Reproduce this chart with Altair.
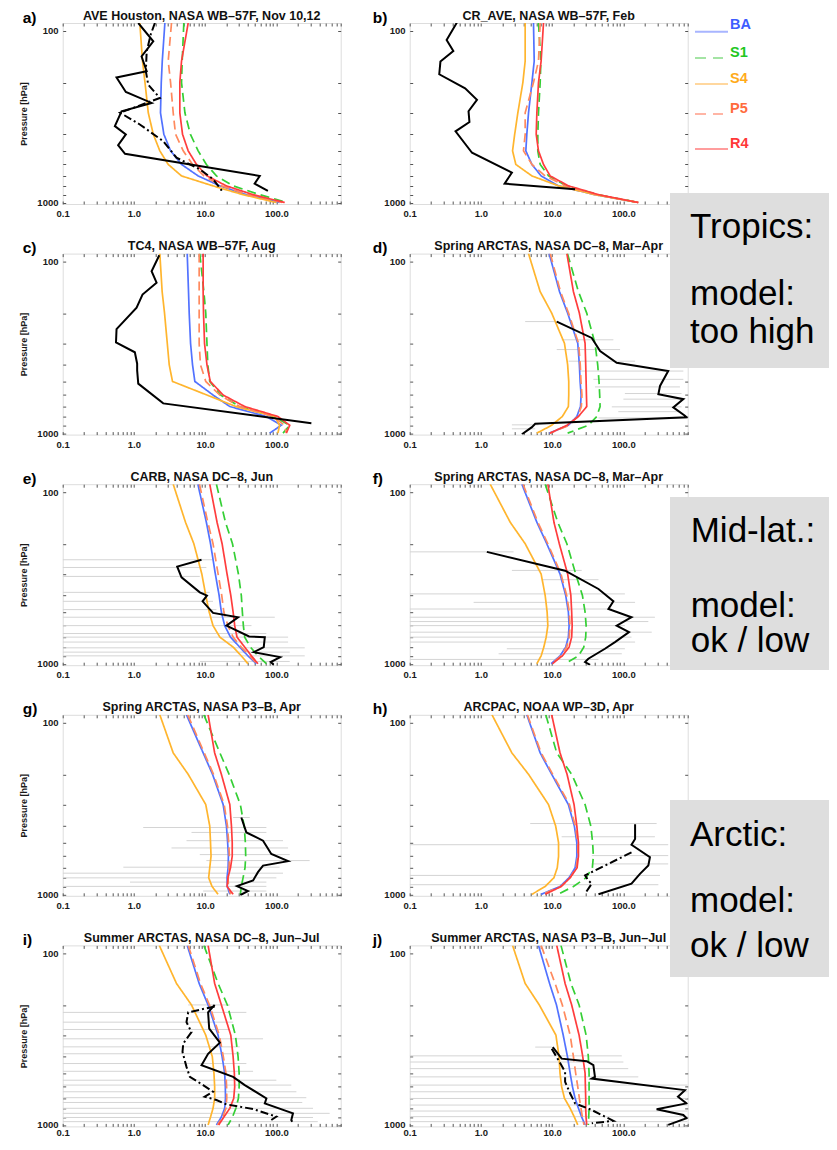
import altair as alt
import pandas as pd

FONT = "Liberation Sans"
SERIES = ["BA", "S1", "S4", "P5", "R4"]
LINE_COLORS = ["#5272ff", "#35cf35", "#ffb52e", "#ff8a5e", "#ff3d3d"]
LINE_DASHES = [[1, 0], [9, 5], [1, 0], [9, 5], [1, 0]]
LEGEND_LINE_COLORS = ["#a8b5ff", "#a4e4a4", "#ffd79e", "#ffb5a5", "#ff9d9d"]
LEGEND_TEXT_COLORS = ["#3d5cff", "#21c621", "#ffab1a", "#ff6b3d", "#ff3838"]

X_TICKS = [0.1, 0.2, 0.3, 0.4, 0.5, 0.6, 0.7, 0.8, 0.9, 1, 2, 3, 4, 5, 6, 7, 8, 9,
           10, 20, 30, 40, 50, 60, 70, 80, 90, 100, 200, 300, 400, 500, 600, 700, 800]
X_LABELED = [0.1, 1, 10, 100]
Y_TICKS = [100, 200, 300, 400, 500, 600, 700, 800, 900, 1000]
Y_LABELED = [100, 1000]

# model pressure levels (hPa)
P_MODEL = [90, 150, 200, 300, 400, 500, 600, 700, 800, 900, 1000]

# ---- a) AVE Houston
A_BA = [2.72, 2.5, 2.42, 2.36, 2.63, 3.27, 4.66, 7.98, 16.1, 37.9, 111]
A_S1 = [5.02, 4.76, 4.66, 5.2, 6.2, 7.98, 10.4, 14.4, 24.7, 58.4, 141]
A_S4 = [1.21, 1.32, 1.43, 1.59, 1.87, 2.31, 3.03, 4.66, 12.9, 34, 100]
A_P5 = [3.37, 3.03, 3.27, 3.56, 3.84, 4.92, 6.65, 9.59, 17, 40, 121]
A_R4 = [5.78, 4.66, 4.41, 4.41, 4.81, 5.78, 7.56, 10.6, 19.9, 47.1, 131]
A_OBS_P = [90, 115, 141, 172, 187, 227, 263, 294, 359, 401, 463, 520, 700, 776, 856]
A_OBS_V = [1.15, 1.87, 1.28, 1.51, 0.57, 0.77, 1.77, 0.67, 0.54, 0.77, 0.60, 0.75, 58.4, 49.5, 76]
A_OBS2_P = [90, 105, 132, 172, 206, 246, 300, 351, 439, 548, 641, 730, 874]
A_OBS2_V = [1.97, 1.72, 1.51, 1.47, 1.59, 2.31, 0.64, 1.21, 2.58, 3.96, 8.41, 12.9, 17.9]

# ---- b) CR_AVE
B_BA = [5.47, 5.6, 5.2, 4.66, 4.41, 4.27, 5.2, 7.0, 12.3, 40, 162]
B_S1 = [6.43, 6.94, 6.79, 6.43, 6.29, 6.29, 6.79, 8.9, 16.1, 44, 162]
B_S4 = [4.18, 4.18, 3.88, 3.3, 2.98, 2.78, 3.09, 5.2, 12.3, 40, 162]
B_P5 = [6.79, 6.43, 5.47, 4.18, 4.18, 3.96, 5.2, 7.98, 15.2, 42, 162]
B_R4 = [7.56, 7.0, 6.43, 6.1, 5.97, 6.43, 7.56, 9.37, 17, 45, 162]
B_OBS_P = [89.5, 113, 131, 151, 179, 216, 252, 294, 340, 385, 513, 670, 776, 837]
B_OBS_V = [0.46, 0.33, 0.41, 0.27, 0.26, 0.60, 0.88, 0.67, 0.69, 0.44, 0.75, 2.72, 2.15, 21]

# ---- c) TC4
C_BA = [5.6, 5.84, 5.97, 6.24, 6.65, 7.17, 12.9, 22.2, 72.4, 117, 80.6]
C_S1 = [8.41, 9.59, 10.2, 10.6, 10.9, 11.6, 16.5, 30.6, 89.8, 154, 124]
C_S4 = [2.31, 2.49, 2.69, 2.94, 3.13, 3.48, 10.6, 27, 95, 111, 105]
C_P5 = [8.24, 8.24, 8.24, 8.24, 8.6, 10.2, 16.1, 30.6, 89.8, 130, 138]
C_R4 = [9.37, 9.37, 9.48, 9.8, 10.6, 11.8, 17.9, 35.9, 105, 154, 138]
C_OBS_P = [92, 114, 133, 156, 186, 248, 296, 338, 394, 431, 515, 671, 875]
C_OBS_V = [2.27, 1.77, 2.08, 1.32, 1.09, 0.57, 0.56, 1.03, 1.11, 1.11, 1.15, 2.58, 310]

# ---- d) Spring ARCTAS DC-8 (tropics row)
D_BA = [9.08, 12.7, 16.5, 22.9, 24.1, 24.7, 25.5, 25.0, 22.2, 16.9, 9.08]
D_S1 = [16.4, 23.4, 30.6, 40.0, 43.6, 45.5, 46.5, 47.1, 42.3, 32.2, 16.5]
D_S4 = [4.66, 6.79, 9.86, 14.9, 16.5, 17.1, 17.1, 16.9, 13.9, 9.86, 6.1]
D_P5 = [9.4, 13.1, 17.0, 23.5, 24.8, 25.4, 26.2, 25.7, 22.9, 17.4, 9.3]
D_R4 = [16.1, 19.9, 24.1, 29.0, 29.6, 30.0, 30.3, 30.6, 23.4, 16.1, 9.37]
D_OBS_P = [224, 279, 333, 389, 435, 531, 593, 634, 708, 791, 809, 883, 923, 1015]
D_OBS_V = [11.6, 36, 47.1, 80.6, 426, 327, 310, 695, 502, 731, 772, 5.78, 5.2, 3.76]
D_ERR_P = [224, 286, 326, 381, 435, 486, 538, 588, 634, 703, 750, 816, 895, 944]
D_ERR_LO = [4.18, 13.6, 11.6, 16.9, 24.7, 37.9, 39.9, 105, 100, 68.8, 84.9, 44.7, 2.72, 2.72]
D_ERR_HI = [12.3, 72.4, 89.8, 146, 695, 695, 623, 656, 695, 656, 623, 772, 6.43, 5.78]

# ---- e) CARB
E_BA = [7.9, 10.4, 11.9, 13.9, 15.7, 16.9, 18.8, 22.7, 30.6, 39.9, 52.4]
E_S1 = [14.4, 19.3, 24.2, 29.3, 32.2, 33.3, 34.4, 35.9, 43.2, 55.1, 72.4]
E_S4 = [3.56, 5.3, 6.94, 8.98, 10.2, 11.4, 12.9, 16.1, 24.7, 32.2, 39.9]
E_P5 = [8.32, 10.9, 12.9, 15.2, 17.1, 18.3, 20.9, 24.7, 32.2, 42.3, 53.5]
E_R4 = [11.6, 14.7, 17.3, 20.3, 22.9, 24.7, 26.0, 28.0, 35.9, 44.7, 55.1]
E_OBS_P = [248, 272, 314, 384, 401, 433, 506, 536, 600, 694, 700, 800, 856, 915, 978, 1015]
E_OBS_V = [8.89, 4.05, 4.66, 8.41, 10.6, 9.2, 12.9, 29, 19.9, 41.4, 68.8, 66.5, 48.2, 113, 83.2, 91.7]
E_ERR_P = [248, 275, 310, 384, 433, 484, 536, 600, 667, 700, 748, 808, 856, 900, 970]
E_ERR_LO = [0.1, 0.1, 0.1, 0.1, 0.1, 0.1, 0.1, 0.1, 0.1, 0.1, 0.1, 0.1, 0.1, 0.1, 8.41]
E_ERR_HI = [12.9, 10.4, 8.41, 11.6, 12.9, 14.4, 95, 44.7, 72.4, 146, 146, 250, 154, 250, 154]

# ---- f) Spring ARCTAS DC-8 (mid-lat row)
F_BA = [3.76, 6.1, 8.41, 12.9, 15.5, 16.9, 17.3, 16.9, 15.5, 12.9, 9.65]
F_S1 = [7.98, 12.0, 16.1, 21.4, 26.6, 29.0, 30.0, 29.6, 27.8, 23.4, 15.2]
F_S4 = [1.35, 2.58, 4.18, 7.0, 7.98, 8.5, 8.7, 8.24, 7.64, 7.0, 6.1]
F_P5 = [3.9, 6.3, 8.7, 13.3, 16.0, 17.4, 17.8, 17.4, 16.0, 13.3, 9.9]
F_R4 = [8.7, 10.6, 12.6, 16.5, 18.3, 18.8, 19.1, 18.8, 17.3, 13.9, 10.1]
F_OBS_P = [223, 287, 367, 433, 480, 536, 600, 655, 748, 818, 935, 978, 1015]
F_OBS_V = [1.21, 15.2, 44.7, 72.4, 61.7, 130, 80.6, 120, 76.2, 55.1, 32.2, 29, 34.1]
F_ERR_P = [223, 286, 324, 392, 439, 480, 536, 568, 600, 655, 700, 748, 818, 875, 944]
F_ERR_LO = [0.1, 2.72, 7.17, 0.1, 0.79, 0.1, 0.1, 0.1, 0.1, 0.1, 0.1, 0.1, 2.31, 1.77, 0.1]
F_ERR_HI = [2.87, 26, 44.7, 105, 146, 68.8, 277, 224, 105, 250, 130, 146, 105, 95, 44.7]

# ---- g) Spring ARCTAS P3-B
G_BA = [5.47, 9.37, 12.7, 17.9, 19.9, 20.7, 21.2, 21.0, 20.3, 20.5, 22.2]
G_S1 = [9.6, 16.1, 21.7, 31.2, 35.3, 36.7, 37.1, 36.3, 34.1, 32.2, 31.2]
G_S4 = [2.31, 3.56, 5.78, 10.2, 11.6, 11.9, 12.1, 11.6, 11.2, 12.5, 15.2]
G_P5 = [5.7, 9.7, 13.1, 18.5, 20.6, 21.4, 21.9, 21.7, 21.0, 21.2, 22.9]
G_R4 = [11.0, 13.6, 16.9, 22.2, 23.4, 24.0, 24.0, 22.7, 20.9, 20.3, 24.7]
G_OBS_P = [357, 436, 487, 582, 641, 680, 743, 830, 895, 957, 1009]
G_OBS_V = [32.2, 37.9, 65, 84.9, 146, 65, 55.1, 47.1, 28, 39.9, 31.2]
G_ERR_P = [357, 408, 436, 487, 537, 587, 636, 695, 753, 802, 849, 899, 957]
G_ERR_LO = [24.7, 1.35, 6.43, 5.47, 3.37, 8.41, 10.4, 0.71, 0.1, 0.1, 0.88, 0.1, 9.37]
G_ERR_HI = [42.3, 72.4, 72.4, 124, 146, 154, 293, 111, 124, 100, 72.4, 72.4, 72.4]

# ---- h) ARCPAC
H_BA = [4.41, 6.79, 9.86, 16.9, 20.5, 22.2, 22.2, 21.0, 17.3, 12.9, 7.0]
H_S1 = [8.15, 11.6, 18.8, 29.0, 34.9, 37.0, 37.9, 36.7, 30.0, 19.9, 12.0]
H_S4 = [1.43, 2.72, 4.66, 8.89, 11.2, 12.3, 12.3, 11.8, 10.6, 7.98, 5.2]
H_P5 = [4.5, 7.0, 10.2, 17.5, 21.2, 22.9, 22.9, 21.7, 17.9, 13.3, 7.2]
H_R4 = [9.86, 12.9, 16.2, 20.3, 22.2, 23.4, 23.4, 22.4, 17.9, 13.4, 7.98]
H_OBS_P = [391, 476, 514, 608, 680, 760, 867, 1000]
H_OBS_V = [146, 146, 130, 236, 224, 171, 130, 44.7]
H_OBS2_P = [570, 776, 830, 867, 991]
H_OBS2_V = [130, 29, 32.2, 36, 29]
H_ERR_P = [387, 462, 514, 595, 665, 776, 879]
H_ERR_LO = [4.92, 13.6, 0.1, 36, 36, 0.1, 0.1]
H_ERR_HI = [293, 277, 426, 426, 426, 327, 310]

# ---- i) Summer ARCTAS DC-8
I_BA = [5.6, 8.24, 11.0, 15.2, 17.3, 18.8, 19.2, 19.3, 18.8, 16.9, 14.4]
I_S1 = [9.6, 15.2, 20.5, 26.6, 29.0, 30.0, 30.0, 29.3, 27.0, 24.2, 21.0]
I_S4 = [2.27, 3.96, 6.43, 10.2, 12.6, 13.3, 13.6, 13.6, 12.9, 11.9, 11.0]
I_P5 = [5.8, 8.6, 11.5, 15.8, 18.0, 19.6, 20.0, 20.1, 19.6, 17.6, 14.9]
I_R4 = [11.0, 13.6, 16.9, 22.9, 24.7, 25.7, 26.0, 25.2, 22.2, 18.3, 15.5]
I_OBS_P = [200, 221, 275, 332, 385, 449, 525, 586, 701, 749, 856, 936, 957]
I_OBS_V = [13.6, 11.0, 11.4, 16.1, 11.0, 8.89, 24.7, 36.0, 72.4, 68.8, 171, 162, 167]
I_OBS2_P = [204, 221, 252, 288, 336, 376, 459, 525, 586, 641, 685, 716, 759, 808, 895, 936]
I_OBS2_V = [13.6, 5.78, 5.47, 6.43, 4.92, 4.81, 5.47, 6.1, 9.37, 12.9, 9.86, 14.4, 19.9, 47.1, 100, 84.9]
I_ERR_P = [200, 221, 252, 278, 315, 351, 385, 439, 487, 549, 586, 641, 694, 740, 800, 856, 905, 957]
I_ERR_LO = [5.78, 0.1, 0.1, 0.1, 0.1, 0.1, 0.1, 0.1, 0.1, 0.1, 0.1, 0.1, 0.1, 0.1, 0.1, 0.1, 0.1, 0.1]
I_ERR_HI = [22.2, 37.9, 24.7, 22.2, 65, 30.6, 30.6, 37.9, 47.1, 100, 162, 191, 263, 231, 327, 560, 327, 381]

# ---- j) Summer ARCTAS P3-B
J_BA = [6.43, 9.2, 11.5, 14.3, 16.4, 17.9, 19.3, 21.0, 23.4, 26.0, 29.0]
J_S1 = [13.3, 18.4, 23.9, 30.0, 32.2, 33.0, 33.0, 33.0, 33.0, 32.6, 32.2]
J_S4 = [2.78, 4.18, 6.6, 11.3, 12.5, 12.9, 13.6, 14.9, 17.9, 20.5, 22.9]
J_P5 = [7.0, 11.0, 13.9, 17.9, 19.9, 21.4, 22.9, 24.1, 25.4, 26.6, 28.0]
J_R4 = [11.6, 15.2, 18.8, 23.9, 26.9, 29.0, 29.3, 29.6, 29.6, 29.9, 30.6]
J_OBS_P = [352, 411, 425, 449, 525, 537, 627, 685, 749, 811, 875, 915, 1000]
J_OBS_V = [10.2, 13.6, 30.6, 37.9, 39.9, 36.0, 731, 584, 772, 293, 695, 772, 426]
J_OBS2_P = [360, 420, 491, 561, 656, 749, 819, 895, 947, 978]
J_OBS2_V = [9.86, 12.3, 15.2, 15.2, 17.9, 21.0, 36.0, 55.1, 72.4, 36.0]
J_ERR_P = [352, 396, 430, 470, 525, 586, 641, 701, 766, 830, 895, 957]
J_ERR_LO = [5.78, 0.1, 0.1, 0.1, 0.1, 0.1, 0.1, 0.1, 0.1, 0.1, 0.1, 0.1]
J_ERR_HI = [9.86, 95, 100, 117, 162, 800, 800, 800, 800, 800, 800, 800]

PANELS = [
    ("a)", "AVE Houston, NASA WB–57F, Nov 10,12", [A_BA, A_S1, A_S4, A_P5, A_R4],
     (A_OBS_P, A_OBS_V), (A_OBS2_P, A_OBS2_V), None),
    ("b)", "CR_AVE, NASA WB–57F, Feb", [B_BA, B_S1, B_S4, B_P5, B_R4],
     (B_OBS_P, B_OBS_V), None, None),
    ("c)", "TC4, NASA WB–57F, Aug", [C_BA, C_S1, C_S4, C_P5, C_R4],
     (C_OBS_P, C_OBS_V), None, None),
    ("d)", "Spring ARCTAS, NASA DC–8, Mar–Apr", [D_BA, D_S1, D_S4, D_P5, D_R4],
     (D_OBS_P, D_OBS_V), None, (D_ERR_P, D_ERR_LO, D_ERR_HI)),
    ("e)", "CARB, NASA DC–8, Jun", [E_BA, E_S1, E_S4, E_P5, E_R4],
     (E_OBS_P, E_OBS_V), None, (E_ERR_P, E_ERR_LO, E_ERR_HI)),
    ("f)", "Spring ARCTAS, NASA DC–8, Mar–Apr", [F_BA, F_S1, F_S4, F_P5, F_R4],
     (F_OBS_P, F_OBS_V), None, (F_ERR_P, F_ERR_LO, F_ERR_HI)),
    ("g)", "Spring ARCTAS, NASA P3–B, Apr", [G_BA, G_S1, G_S4, G_P5, G_R4],
     (G_OBS_P, G_OBS_V), None, (G_ERR_P, G_ERR_LO, G_ERR_HI)),
    ("h)", "ARCPAC, NOAA WP–3D, Apr", [H_BA, H_S1, H_S4, H_P5, H_R4],
     (H_OBS_P, H_OBS_V), (H_OBS2_P, H_OBS2_V), (H_ERR_P, H_ERR_LO, H_ERR_HI)),
    ("i)", "Summer ARCTAS, NASA DC–8, Jun–Jul", [I_BA, I_S1, I_S4, I_P5, I_R4],
     (I_OBS_P, I_OBS_V), (I_OBS2_P, I_OBS2_V), (I_ERR_P, I_ERR_LO, I_ERR_HI)),
    ("j)", "Summer ARCTAS, NASA P3–B, Jun–Jul", [J_BA, J_S1, J_S4, J_P5, J_R4],
     (J_OBS_P, J_OBS_V), (J_OBS2_P, J_OBS2_V), (J_ERR_P, J_ERR_LO, J_ERR_HI)),
]

# annotation boxes, positioned relative to the panel that hosts them
BOXES = {
    3: dict(rect=(260.3, 420.0, -60.6, 114.4), x=280.3,
            lines=[("Tropics:", -15.6), ("model:", 51.4), ("too high", 89.4)]),
    5: dict(rect=(260.3, 420.0, 12.8, 185.8), x=281.0,
            lines=[("Mid-lat.:", 57.5), ("model:", 132.3), ("ok / low", 168.0)]),
    9: dict(rect=(260.3, 420.0, -145.4, 31.6), x=280.3,
            lines=[("Arctic:", -99.4), ("model:", -33.4), ("ok /  low", 11.3)]),
}

W, H = 278, 181
ROW_GAP, COL_GAP = 49.6, 69
XS = alt.Scale(type="log", domain=[0.1, 800], nice=False)
YS = alt.Scale(type="log", domain=[90, 1020], nice=False, reverse=True)
ONE = pd.DataFrame({"k": [0]})
TICK = alt.ExprRef(expr="-3")

X_LABEL_EXPR = " || ".join(f"datum.value == {v}" for v in X_LABELED)
X_LABEL_EXPR = f"({X_LABEL_EXPR}) ? format(datum.value, '.1f') : ''"
Y_LABEL_EXPR = " || ".join(f"datum.value == {v}" for v in Y_LABELED)
Y_LABEL_EXPR = f"({Y_LABEL_EXPR}) ? format(datum.value, 'd') : ''"


def x_axis(orient, labels, pad=7.5):
    kw = dict(orient=orient, values=X_TICKS, tickSize=TICK, tickColor="#555555",
              tickWidth=1, domain=False, grid=False)
    if labels:
        kw.update(labelExpr=X_LABEL_EXPR,
                  labelFont=FONT, labelFontSize=9.5, labelFontWeight="bold",
                  labelColor="#1a1a1a", labelPadding=pad, labelOverlap=False,
                  labelFlush=False)
    else:
        kw.update(labels=False)
    return alt.Axis(**kw)


def y_axis(orient, labels):
    kw = dict(orient=orient, values=Y_TICKS, tickSize=TICK, tickColor="#555555",
              tickWidth=1, domain=False, grid=False)
    if labels:
        kw.update(labelExpr=Y_LABEL_EXPR,
                  labelFont=FONT, labelFontSize=9.5, labelFontWeight="bold",
                  labelColor="#1a1a1a", labelPadding=7.7, labelOverlap=False,
                  labelFlush=False, titleFont=FONT, titleFontSize=9,
                  titleFontWeight="bold", titleColor="#1a1a1a", titlePadding=8)
    else:
        kw.update(labels=False)
    return alt.Axis(**kw)


def text_layer(txt, x, y, size, color="#111111", weight="bold", align="left"):
    return alt.Chart(ONE).mark_text(
        align=align, baseline="alphabetic", font=FONT, fontSize=size,
        fontWeight=weight, color=color
    ).encode(x=alt.value(x), y=alt.value(y), text=alt.value(txt))


def build_panel(k):
    letter, title, models, obs, obs2, err = PANELS[k]
    left = (k % 2 == 0)
    last_row = k >= 8
    rows = []
    for s, vals in zip(SERIES, models):
        for i, (p, v) in enumerate(zip(P_MODEL, vals)):
            rows.append({"series": s, "P": p, "v": v, "i": i})
    mdf = pd.DataFrame(rows)

    layers = []
    if err is not None:
        edf = pd.DataFrame({"P": err[0], "lo": err[1], "hi": err[2]})
        layers.append(alt.Chart(edf).mark_rule(color="#d4d4d4", strokeWidth=1, clip=True).encode(
            x=alt.X("lo:Q", scale=XS, axis=None),
            x2="hi:Q",
            y=alt.Y("P:Q", scale=YS, axis=None),
        ))

    layers.append(alt.Chart(mdf).mark_line(strokeWidth=1.7, clip=True).encode(
        x=alt.X("v:Q", scale=XS, axis=x_axis("bottom", True, 4 if last_row else 7.5), title=None),
        y=alt.Y("P:Q", scale=YS, axis=y_axis("left", True),
                title="Pressure [hPa]" if left else None),
        color=alt.Color("series:N", scale=alt.Scale(domain=SERIES, range=LINE_COLORS), legend=None),
        strokeDash=alt.StrokeDash("series:N", scale=alt.Scale(domain=SERIES, range=LINE_DASHES), legend=None),
        order="i:Q",
    ))

    odf = pd.DataFrame({"P": obs[0], "v": obs[1], "i": list(range(len(obs[0])))})
    layers.append(alt.Chart(odf).mark_line(color="black", strokeWidth=2, clip=True).encode(
        x=alt.X("v:Q", scale=XS, axis=None),
        y=alt.Y("P:Q", scale=YS, axis=None),
        order="i:Q",
    ))
    if obs2 is not None:
        o2 = pd.DataFrame({"P": obs2[0], "v": obs2[1], "i": list(range(len(obs2[0])))})
        layers.append(alt.Chart(o2).mark_line(color="black", strokeWidth=2, strokeDash=[8, 3, 2, 3], clip=True).encode(
            x=alt.X("v:Q", scale=XS, axis=None),
            y=alt.Y("P:Q", scale=YS, axis=None),
            order="i:Q",
        ))

    # top / right tick axes
    layers.append(alt.Chart(mdf).mark_point(opacity=0, size=1).encode(
        x=alt.X("v:Q", scale=XS, axis=x_axis("top", False), title=None),
        y=alt.Y("P:Q", scale=YS, axis=y_axis("right", False), title=None),
    ))

    layers.append(text_layer(letter, -40 if left else -37, -0.5, 15.5, color="#000000"))
    layers.append(text_layer(title, W / 2, -3.5, 12.5, align="center"))

    if k == 1:
        ys_line = [8.7, 35, 61, 91, 126]
        ys_text = [6.3, 33.7, 60.3, 90.3, 125.3]
        for s, lc, tc, dash, yl, yt in zip(SERIES, LEGEND_LINE_COLORS, LEGEND_TEXT_COLORS,
                                           LINE_DASHES, ys_line, ys_text):
            dashed = dash[1] > 0
            layers.append(alt.Chart(ONE).mark_rule(
                color=lc, strokeWidth=2, strokeDash=[11, 7] if dashed else [1, 0]
            ).encode(x=alt.value(285.3), x2=alt.value(313.3 if dashed else 318.3), y=alt.value(yl)))
            layers.append(text_layer(s, 320.3, yt, 14.5, color=tc))

    if k in BOXES:
        b = BOXES[k]
        x1, x2, y1, y2 = b["rect"]
        layers.append(alt.Chart(ONE).mark_rect(color="#dedede").encode(
            x=alt.value(x1), x2=alt.value(x2), y=alt.value(y1), y2=alt.value(y2)))
        for txt, yb in b["lines"]:
            layers.append(text_layer(txt, b["x"], yb, 35, color="#000000", weight="normal"))

    return alt.layer(*layers).properties(width=W, height=H).resolve_axis(
        x="independent", y="independent")


charts = [build_panel(k) for k in range(len(PANELS))]
# svg kept 821 px wide (page width minus body margins) so the browser never shrinks it
chart = alt.concat(
    *charts, columns=2, spacing={"row": ROW_GAP, "column": COL_GAP}, bounds="flush"
).properties(
    autosize=alt.AutoSizeParams(type="none"),
    padding={"left": 54.7, "top": 15, "right": 766.3, "bottom": 1114}
).configure_view(
    stroke="#3a3a3a", strokeWidth=1.5
).configure(font=FONT)

chart.save("out.html", embed_options={"renderer": "svg", "actions": False})
